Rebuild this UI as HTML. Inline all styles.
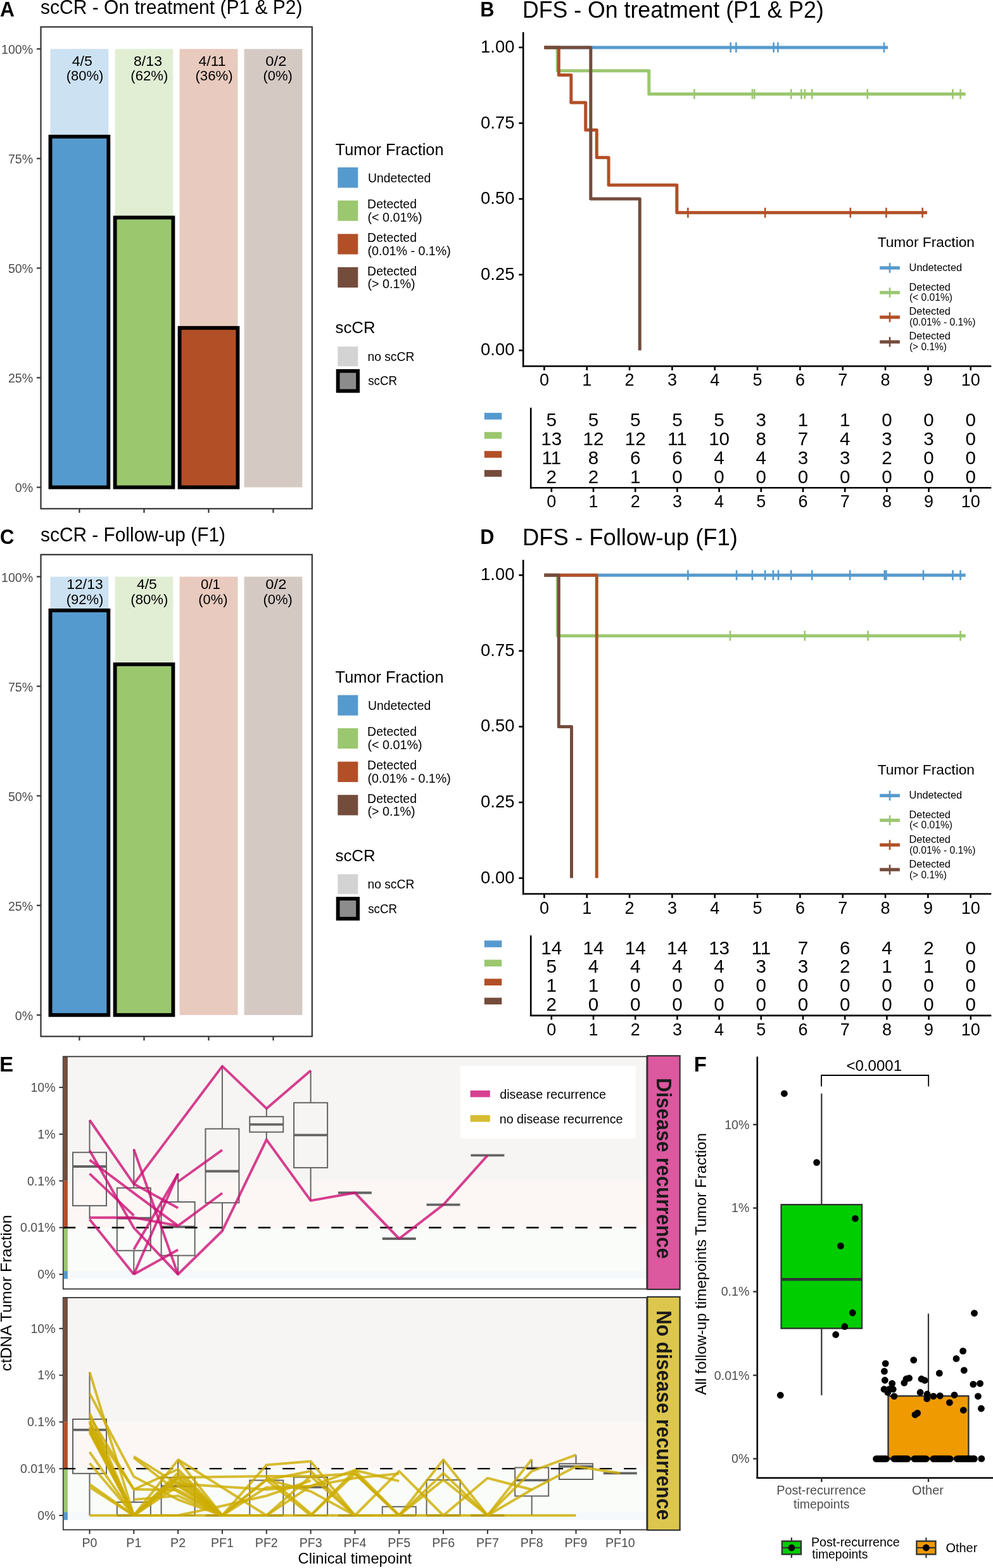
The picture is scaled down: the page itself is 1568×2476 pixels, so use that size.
<!DOCTYPE html>
<html><head><meta charset="utf-8"><title>Figure</title>
<style>html,body{margin:0;padding:0;background:#fff;}svg{display:block;}</style>
</head><body>
<svg width="1568" height="2476" viewBox="0 0 1568 2476" font-family="&apos;Liberation Sans&apos;, Arial, Helvetica, sans-serif">
<rect x="0" y="0" width="1568" height="2476" fill="#fff"/>
<text x="0.11" y="26.00" font-size="33.00" font-weight="bold" fill="#000" textLength="22.93" lengthAdjust="spacingAndGlyphs">A</text>
<text x="64.06" y="22.00" font-size="30.50" fill="#000" textLength="413.50" lengthAdjust="spacingAndGlyphs">scCR - On treatment (P1 &amp; P2)</text>
<rect x="64.50" y="42.50" width="428.30" height="760.80" fill="none" stroke="#333333" stroke-width="2.20"/>
<line x1="58.00" y1="769.50" x2="64.50" y2="769.50" stroke="#333333" stroke-width="2.20"/>
<text x="52.2" y="777.4" font-size="19.60" text-anchor="end" fill="#4D4D4D">0%</text>
<line x1="58.00" y1="596.45" x2="64.50" y2="596.45" stroke="#333333" stroke-width="2.20"/>
<text x="52.2" y="604.4" font-size="19.60" text-anchor="end" fill="#4D4D4D">25%</text>
<line x1="58.00" y1="423.40" x2="64.50" y2="423.40" stroke="#333333" stroke-width="2.20"/>
<text x="52.2" y="431.3" font-size="19.60" text-anchor="end" fill="#4D4D4D">50%</text>
<line x1="58.00" y1="250.35" x2="64.50" y2="250.35" stroke="#333333" stroke-width="2.20"/>
<text x="52.2" y="258.2" font-size="19.60" text-anchor="end" fill="#4D4D4D">75%</text>
<line x1="58.00" y1="77.30" x2="64.50" y2="77.30" stroke="#333333" stroke-width="2.20"/>
<text x="52.2" y="85.2" font-size="19.60" text-anchor="end" fill="#4D4D4D">100%</text>
<line x1="125.40" y1="803.30" x2="125.40" y2="809.80" stroke="#333333" stroke-width="2.20"/>
<line x1="227.50" y1="803.30" x2="227.50" y2="809.80" stroke="#333333" stroke-width="2.20"/>
<line x1="329.50" y1="803.30" x2="329.50" y2="809.80" stroke="#333333" stroke-width="2.20"/>
<line x1="431.50" y1="803.30" x2="431.50" y2="809.80" stroke="#333333" stroke-width="2.20"/>
<rect x="79.50" y="77.30" width="91.80" height="692.20" fill="#CCE1F1"/>
<rect x="181.60" y="77.30" width="91.80" height="692.20" fill="#E1EED4"/>
<rect x="283.60" y="77.30" width="91.80" height="692.20" fill="#E8CABE"/>
<rect x="385.60" y="77.30" width="91.80" height="692.20" fill="#D5C9C4"/>
<rect x="79.50" y="215.74" width="91.80" height="553.76" fill="#559ACF" stroke="#000" stroke-width="5.90"/>
<text x="113.67" y="103.80" font-size="22.00" fill="#000" textLength="32.10" lengthAdjust="spacingAndGlyphs">4/5</text>
<text x="104.74" y="127.00" font-size="22.00" fill="#000" textLength="58.52" lengthAdjust="spacingAndGlyphs">(80%)</text>
<rect x="181.60" y="343.53" width="91.80" height="425.97" fill="#9BC76F" stroke="#000" stroke-width="5.90"/>
<text x="210.99" y="103.80" font-size="22.00" fill="#000" textLength="45.02" lengthAdjust="spacingAndGlyphs">8/13</text>
<text x="206.32" y="127.00" font-size="22.00" fill="#000" textLength="59.15" lengthAdjust="spacingAndGlyphs">(62%)</text>
<rect x="283.60" y="517.79" width="91.80" height="251.71" fill="#B24F27" stroke="#000" stroke-width="5.90"/>
<text x="313.59" y="103.80" font-size="22.00" fill="#000" textLength="42.99" lengthAdjust="spacingAndGlyphs">4/11</text>
<text x="308.42" y="127.00" font-size="22.00" fill="#000" textLength="59.26" lengthAdjust="spacingAndGlyphs">(36%)</text>
<text x="419.37" y="103.80" font-size="22.00" fill="#000" textLength="33.02" lengthAdjust="spacingAndGlyphs">0/2</text>
<text x="415.44" y="127.00" font-size="22.00" fill="#000" textLength="46.32" lengthAdjust="spacingAndGlyphs">(0%)</text>
<text x="529.63" y="244.80" font-size="25.30" fill="#000" textLength="170.90" lengthAdjust="spacingAndGlyphs">Tumor Fraction</text>
<rect x="533.30" y="264.30" width="32.00" height="32.20" fill="#559ACF"/>
<rect x="533.30" y="316.60" width="32.00" height="32.20" fill="#9BC76F"/>
<rect x="533.30" y="369.40" width="32.00" height="32.20" fill="#B24F27"/>
<rect x="533.30" y="421.90" width="32.00" height="32.20" fill="#744C3C"/>
<text x="581.00" y="288.10" font-size="20.60" fill="#000" textLength="99.25" lengthAdjust="spacingAndGlyphs">Undetected</text>
<text x="580.10" y="328.80" font-size="20.60" fill="#000" textLength="77.95" lengthAdjust="spacingAndGlyphs">Detected</text>
<text x="580.48" y="349.90" font-size="20.60" fill="#000" textLength="86.15" lengthAdjust="spacingAndGlyphs">(&lt; 0.01%)</text>
<text x="580.10" y="381.80" font-size="20.60" fill="#000" textLength="77.95" lengthAdjust="spacingAndGlyphs">Detected</text>
<text x="580.48" y="402.50" font-size="20.60" fill="#000" textLength="131.44" lengthAdjust="spacingAndGlyphs">(0.01% - 0.1%)</text>
<text x="580.10" y="434.50" font-size="20.60" fill="#000" textLength="77.95" lengthAdjust="spacingAndGlyphs">Detected</text>
<text x="580.48" y="455.00" font-size="20.60" fill="#000" textLength="75.15" lengthAdjust="spacingAndGlyphs">(&gt; 0.1%)</text>
<text x="529.48" y="526.20" font-size="25.30" fill="#000" textLength="63.12" lengthAdjust="spacingAndGlyphs">scCR</text>
<rect x="533.30" y="547.20" width="32.00" height="31.20" fill="#D3D3D3"/>
<text x="580.42" y="570.00" font-size="20.60" fill="#000" textLength="73.98" lengthAdjust="spacingAndGlyphs">no scCR</text>
<rect x="533.60" y="585.80" width="31.50" height="31.60" fill="#8C8C8C" stroke="#000" stroke-width="5.80"/>
<text x="581.18" y="608.40" font-size="20.60" fill="#000" textLength="45.79" lengthAdjust="spacingAndGlyphs">scCR</text>
<text x="0.03" y="859.30" font-size="33.00" font-weight="bold" fill="#000" textLength="22.42" lengthAdjust="spacingAndGlyphs">C</text>
<text x="64.07" y="855.30" font-size="30.50" fill="#000" textLength="291.88" lengthAdjust="spacingAndGlyphs">scCR - Follow-up (F1)</text>
<rect x="64.50" y="875.80" width="428.30" height="760.80" fill="none" stroke="#333333" stroke-width="2.20"/>
<line x1="58.00" y1="1602.80" x2="64.50" y2="1602.80" stroke="#333333" stroke-width="2.20"/>
<text x="52.2" y="1610.7" font-size="19.60" text-anchor="end" fill="#4D4D4D">0%</text>
<line x1="58.00" y1="1429.75" x2="64.50" y2="1429.75" stroke="#333333" stroke-width="2.20"/>
<text x="52.2" y="1437.7" font-size="19.60" text-anchor="end" fill="#4D4D4D">25%</text>
<line x1="58.00" y1="1256.70" x2="64.50" y2="1256.70" stroke="#333333" stroke-width="2.20"/>
<text x="52.2" y="1264.6" font-size="19.60" text-anchor="end" fill="#4D4D4D">50%</text>
<line x1="58.00" y1="1083.65" x2="64.50" y2="1083.65" stroke="#333333" stroke-width="2.20"/>
<text x="52.2" y="1091.5" font-size="19.60" text-anchor="end" fill="#4D4D4D">75%</text>
<line x1="58.00" y1="910.60" x2="64.50" y2="910.60" stroke="#333333" stroke-width="2.20"/>
<text x="52.2" y="918.5" font-size="19.60" text-anchor="end" fill="#4D4D4D">100%</text>
<line x1="125.40" y1="1636.60" x2="125.40" y2="1643.10" stroke="#333333" stroke-width="2.20"/>
<line x1="227.50" y1="1636.60" x2="227.50" y2="1643.10" stroke="#333333" stroke-width="2.20"/>
<line x1="329.50" y1="1636.60" x2="329.50" y2="1643.10" stroke="#333333" stroke-width="2.20"/>
<line x1="431.50" y1="1636.60" x2="431.50" y2="1643.10" stroke="#333333" stroke-width="2.20"/>
<rect x="79.50" y="910.60" width="91.80" height="692.20" fill="#CCE1F1"/>
<rect x="181.60" y="910.60" width="91.80" height="692.20" fill="#E1EED4"/>
<rect x="283.60" y="910.60" width="91.80" height="692.20" fill="#E8CABE"/>
<rect x="385.60" y="910.60" width="91.80" height="692.20" fill="#D5C9C4"/>
<rect x="79.50" y="963.85" width="91.80" height="638.95" fill="#559ACF" stroke="#000" stroke-width="5.90"/>
<text x="105.36" y="930.00" font-size="22.00" fill="#000" textLength="57.25" lengthAdjust="spacingAndGlyphs">12/13</text>
<text x="104.74" y="953.70" font-size="22.00" fill="#000" textLength="58.52" lengthAdjust="spacingAndGlyphs">(92%)</text>
<rect x="181.60" y="1049.04" width="91.80" height="553.76" fill="#9BC76F" stroke="#000" stroke-width="5.90"/>
<text x="215.97" y="930.00" font-size="22.00" fill="#000" textLength="31.89" lengthAdjust="spacingAndGlyphs">4/5</text>
<text x="206.32" y="953.70" font-size="22.00" fill="#000" textLength="59.15" lengthAdjust="spacingAndGlyphs">(80%)</text>
<text x="317.03" y="930.00" font-size="22.00" fill="#000" textLength="30.96" lengthAdjust="spacingAndGlyphs">0/1</text>
<text x="313.34" y="953.70" font-size="22.00" fill="#000" textLength="46.21" lengthAdjust="spacingAndGlyphs">(0%)</text>
<text x="419.37" y="930.00" font-size="22.00" fill="#000" textLength="33.02" lengthAdjust="spacingAndGlyphs">0/2</text>
<text x="415.44" y="953.70" font-size="22.00" fill="#000" textLength="46.32" lengthAdjust="spacingAndGlyphs">(0%)</text>
<text x="529.63" y="1078.10" font-size="25.30" fill="#000" textLength="170.90" lengthAdjust="spacingAndGlyphs">Tumor Fraction</text>
<rect x="533.30" y="1097.60" width="32.00" height="32.20" fill="#559ACF"/>
<rect x="533.30" y="1149.90" width="32.00" height="32.20" fill="#9BC76F"/>
<rect x="533.30" y="1202.70" width="32.00" height="32.20" fill="#B24F27"/>
<rect x="533.30" y="1255.20" width="32.00" height="32.20" fill="#744C3C"/>
<text x="581.00" y="1121.40" font-size="20.60" fill="#000" textLength="99.25" lengthAdjust="spacingAndGlyphs">Undetected</text>
<text x="580.10" y="1162.10" font-size="20.60" fill="#000" textLength="77.95" lengthAdjust="spacingAndGlyphs">Detected</text>
<text x="580.48" y="1183.20" font-size="20.60" fill="#000" textLength="86.15" lengthAdjust="spacingAndGlyphs">(&lt; 0.01%)</text>
<text x="580.10" y="1215.10" font-size="20.60" fill="#000" textLength="77.95" lengthAdjust="spacingAndGlyphs">Detected</text>
<text x="580.48" y="1235.80" font-size="20.60" fill="#000" textLength="131.44" lengthAdjust="spacingAndGlyphs">(0.01% - 0.1%)</text>
<text x="580.10" y="1267.80" font-size="20.60" fill="#000" textLength="77.95" lengthAdjust="spacingAndGlyphs">Detected</text>
<text x="580.48" y="1288.30" font-size="20.60" fill="#000" textLength="75.15" lengthAdjust="spacingAndGlyphs">(&gt; 0.1%)</text>
<text x="529.48" y="1359.50" font-size="25.30" fill="#000" textLength="63.12" lengthAdjust="spacingAndGlyphs">scCR</text>
<rect x="533.30" y="1380.50" width="32.00" height="31.20" fill="#D3D3D3"/>
<text x="580.42" y="1403.30" font-size="20.60" fill="#000" textLength="73.98" lengthAdjust="spacingAndGlyphs">no scCR</text>
<rect x="533.60" y="1419.10" width="31.50" height="31.60" fill="#8C8C8C" stroke="#000" stroke-width="5.80"/>
<text x="581.18" y="1441.70" font-size="20.60" fill="#000" textLength="45.79" lengthAdjust="spacingAndGlyphs">scCR</text>
<text x="758.34" y="25.80" font-size="33.00" font-weight="bold" fill="#000" textLength="22.26" lengthAdjust="spacingAndGlyphs">B</text>
<text x="824.97" y="27.90" font-size="37.00" fill="#000" textLength="475.84" lengthAdjust="spacingAndGlyphs">DFS - On treatment (P1 &amp; P2)</text>
<line x1="826.20" y1="50.80" x2="826.20" y2="579.50" stroke="#000" stroke-width="2.60"/>
<line x1="824.90" y1="578.20" x2="1565.30" y2="578.20" stroke="#000" stroke-width="2.60"/>
<line x1="819.30" y1="553.30" x2="826.20" y2="553.30" stroke="#000" stroke-width="2.60"/>
<text x="812.4" y="561.3" font-size="27.40" text-anchor="end" fill="#000">0.00</text>
<line x1="819.30" y1="433.70" x2="826.20" y2="433.70" stroke="#000" stroke-width="2.60"/>
<text x="812.4" y="441.7" font-size="27.40" text-anchor="end" fill="#000">0.25</text>
<line x1="819.30" y1="314.10" x2="826.20" y2="314.10" stroke="#000" stroke-width="2.60"/>
<text x="812.4" y="322.1" font-size="27.40" text-anchor="end" fill="#000">0.50</text>
<line x1="819.30" y1="194.50" x2="826.20" y2="194.50" stroke="#000" stroke-width="2.60"/>
<text x="812.4" y="202.5" font-size="27.40" text-anchor="end" fill="#000">0.75</text>
<line x1="819.30" y1="74.90" x2="826.20" y2="74.90" stroke="#000" stroke-width="2.60"/>
<text x="812.4" y="82.9" font-size="27.40" text-anchor="end" fill="#000">1.00</text>
<line x1="859.40" y1="578.20" x2="859.40" y2="584.80" stroke="#000" stroke-width="2.60"/>
<text x="859.4" y="609.3" font-size="27.00" text-anchor="middle" fill="#000">0</text>
<line x1="926.73" y1="578.20" x2="926.73" y2="584.80" stroke="#000" stroke-width="2.60"/>
<text x="926.7" y="609.3" font-size="27.00" text-anchor="middle" fill="#000">1</text>
<line x1="994.06" y1="578.20" x2="994.06" y2="584.80" stroke="#000" stroke-width="2.60"/>
<text x="994.1" y="609.3" font-size="27.00" text-anchor="middle" fill="#000">2</text>
<line x1="1061.39" y1="578.20" x2="1061.39" y2="584.80" stroke="#000" stroke-width="2.60"/>
<text x="1061.4" y="609.3" font-size="27.00" text-anchor="middle" fill="#000">3</text>
<line x1="1128.72" y1="578.20" x2="1128.72" y2="584.80" stroke="#000" stroke-width="2.60"/>
<text x="1128.7" y="609.3" font-size="27.00" text-anchor="middle" fill="#000">4</text>
<line x1="1196.05" y1="578.20" x2="1196.05" y2="584.80" stroke="#000" stroke-width="2.60"/>
<text x="1196.0" y="609.3" font-size="27.00" text-anchor="middle" fill="#000">5</text>
<line x1="1263.38" y1="578.20" x2="1263.38" y2="584.80" stroke="#000" stroke-width="2.60"/>
<text x="1263.4" y="609.3" font-size="27.00" text-anchor="middle" fill="#000">6</text>
<line x1="1330.71" y1="578.20" x2="1330.71" y2="584.80" stroke="#000" stroke-width="2.60"/>
<text x="1330.7" y="609.3" font-size="27.00" text-anchor="middle" fill="#000">7</text>
<line x1="1398.04" y1="578.20" x2="1398.04" y2="584.80" stroke="#000" stroke-width="2.60"/>
<text x="1398.0" y="609.3" font-size="27.00" text-anchor="middle" fill="#000">8</text>
<line x1="1465.37" y1="578.20" x2="1465.37" y2="584.80" stroke="#000" stroke-width="2.60"/>
<text x="1465.4" y="609.3" font-size="27.00" text-anchor="middle" fill="#000">9</text>
<line x1="1532.70" y1="578.20" x2="1532.70" y2="584.80" stroke="#000" stroke-width="2.60"/>
<text x="1532.7" y="609.3" font-size="27.00" text-anchor="middle" fill="#000">10</text>
<path d="M859.40,74.90 L1402.08,74.90" fill="none" stroke="#559ACF" stroke-width="5.0" stroke-linejoin="round" stroke-linecap="butt"/>
<line x1="1153.63" y1="67.00" x2="1153.63" y2="82.80" stroke="#559ACF" stroke-width="2.60"/>
<line x1="1162.38" y1="67.00" x2="1162.38" y2="82.80" stroke="#559ACF" stroke-width="2.60"/>
<line x1="1221.64" y1="67.00" x2="1221.64" y2="82.80" stroke="#559ACF" stroke-width="2.60"/>
<line x1="1228.37" y1="67.00" x2="1228.37" y2="82.80" stroke="#559ACF" stroke-width="2.60"/>
<line x1="1396.02" y1="67.00" x2="1396.02" y2="82.80" stroke="#559ACF" stroke-width="2.60"/>
<path d="M859.40,74.90 L880.27,74.90 L880.27,111.70 L1024.76,111.70 L1024.76,148.50 L1524.62,148.50" fill="none" stroke="#9BC76F" stroke-width="5.0" stroke-linejoin="round" stroke-linecap="butt"/>
<line x1="1096.40" y1="140.60" x2="1096.40" y2="156.40" stroke="#9BC76F" stroke-width="2.60"/>
<line x1="1187.97" y1="140.60" x2="1187.97" y2="156.40" stroke="#9BC76F" stroke-width="2.60"/>
<line x1="1191.34" y1="140.60" x2="1191.34" y2="156.40" stroke="#9BC76F" stroke-width="2.60"/>
<line x1="1249.24" y1="140.60" x2="1249.24" y2="156.40" stroke="#9BC76F" stroke-width="2.60"/>
<line x1="1265.40" y1="140.60" x2="1265.40" y2="156.40" stroke="#9BC76F" stroke-width="2.60"/>
<line x1="1270.79" y1="140.60" x2="1270.79" y2="156.40" stroke="#9BC76F" stroke-width="2.60"/>
<line x1="1282.23" y1="140.60" x2="1282.23" y2="156.40" stroke="#9BC76F" stroke-width="2.60"/>
<line x1="1369.76" y1="140.60" x2="1369.76" y2="156.40" stroke="#9BC76F" stroke-width="2.60"/>
<line x1="1504.42" y1="140.60" x2="1504.42" y2="156.40" stroke="#9BC76F" stroke-width="2.60"/>
<line x1="1516.54" y1="140.60" x2="1516.54" y2="156.40" stroke="#9BC76F" stroke-width="2.60"/>
<path d="M859.40,74.90 L882.29,74.90 L882.29,118.39 L901.82,118.39 L901.82,161.88 L924.71,161.88 L924.71,205.37 L942.22,205.37 L942.22,248.86 L961.07,248.86 L961.07,292.35 L1068.80,292.35 L1068.80,335.85 L1464.02,335.85" fill="none" stroke="#B24F27" stroke-width="5.0" stroke-linejoin="round" stroke-linecap="butt"/>
<line x1="1086.30" y1="327.95" x2="1086.30" y2="343.75" stroke="#B24F27" stroke-width="2.60"/>
<line x1="1208.17" y1="327.95" x2="1208.17" y2="343.75" stroke="#B24F27" stroke-width="2.60"/>
<line x1="1342.83" y1="327.95" x2="1342.83" y2="343.75" stroke="#B24F27" stroke-width="2.60"/>
<line x1="1399.39" y1="327.95" x2="1399.39" y2="343.75" stroke="#B24F27" stroke-width="2.60"/>
<line x1="1456.62" y1="327.95" x2="1456.62" y2="343.75" stroke="#B24F27" stroke-width="2.60"/>
<path d="M859.40,74.90 L932.79,74.90 L932.79,314.10 L1010.22,314.10 L1010.22,553.30 L1010.22,553.30" fill="none" stroke="#744C3C" stroke-width="5.0" stroke-linejoin="round" stroke-linecap="butt"/>
<text x="1385.69" y="390.10" font-size="22.80" fill="#000" textLength="153.28" lengthAdjust="spacingAndGlyphs">Tumor Fraction</text>
<line x1="1389.20" y1="423.00" x2="1420.90" y2="423.00" stroke="#559ACF" stroke-width="5.20"/>
<line x1="1405.00" y1="415.20" x2="1405.00" y2="430.80" stroke="#559ACF" stroke-width="2.60"/>
<line x1="1389.20" y1="462.00" x2="1420.90" y2="462.00" stroke="#9BC76F" stroke-width="5.20"/>
<line x1="1405.00" y1="454.20" x2="1405.00" y2="469.80" stroke="#9BC76F" stroke-width="2.60"/>
<line x1="1389.20" y1="500.90" x2="1420.90" y2="500.90" stroke="#B24F27" stroke-width="5.20"/>
<line x1="1405.00" y1="493.10" x2="1405.00" y2="508.70" stroke="#B24F27" stroke-width="2.60"/>
<line x1="1389.20" y1="539.90" x2="1420.90" y2="539.90" stroke="#744C3C" stroke-width="5.20"/>
<line x1="1405.00" y1="532.10" x2="1405.00" y2="547.70" stroke="#744C3C" stroke-width="2.60"/>
<text x="1435.64" y="427.80" font-size="16.20" fill="#000" textLength="83.41" lengthAdjust="spacingAndGlyphs">Undetected</text>
<text x="1435.56" y="458.70" font-size="16.20" fill="#000" textLength="65.29" lengthAdjust="spacingAndGlyphs">Detected</text>
<text x="1435.93" y="475.00" font-size="16.20" fill="#000" textLength="68.14" lengthAdjust="spacingAndGlyphs">(&lt; 0.01%)</text>
<text x="1435.56" y="497.40" font-size="16.20" fill="#000" textLength="65.29" lengthAdjust="spacingAndGlyphs">Detected</text>
<text x="1435.93" y="514.30" font-size="16.20" fill="#000" textLength="104.44" lengthAdjust="spacingAndGlyphs">(0.01% - 0.1%)</text>
<text x="1435.56" y="536.40" font-size="16.20" fill="#000" textLength="65.29" lengthAdjust="spacingAndGlyphs">Detected</text>
<text x="1435.94" y="553.20" font-size="16.20" fill="#000" textLength="59.02" lengthAdjust="spacingAndGlyphs">(&gt; 0.1%)</text>
<rect x="764.80" y="651.90" width="27.50" height="10.60" fill="#559ACF"/>
<rect x="764.80" y="682.20" width="27.50" height="10.60" fill="#9BC76F"/>
<rect x="764.80" y="712.20" width="27.50" height="10.60" fill="#B24F27"/>
<rect x="764.80" y="742.20" width="27.50" height="10.60" fill="#744C3C"/>
<line x1="838.20" y1="643.80" x2="838.20" y2="771.60" stroke="#000" stroke-width="2.60"/>
<line x1="836.90" y1="770.30" x2="1565.30" y2="770.30" stroke="#000" stroke-width="2.60"/>
<line x1="870.80" y1="770.30" x2="870.80" y2="777.00" stroke="#000" stroke-width="2.60"/>
<text x="870.8" y="801.4" font-size="27.00" text-anchor="middle" fill="#000">0</text>
<line x1="937.00" y1="770.30" x2="937.00" y2="777.00" stroke="#000" stroke-width="2.60"/>
<text x="937.0" y="801.4" font-size="27.00" text-anchor="middle" fill="#000">1</text>
<line x1="1003.20" y1="770.30" x2="1003.20" y2="777.00" stroke="#000" stroke-width="2.60"/>
<text x="1003.2" y="801.4" font-size="27.00" text-anchor="middle" fill="#000">2</text>
<line x1="1069.40" y1="770.30" x2="1069.40" y2="777.00" stroke="#000" stroke-width="2.60"/>
<text x="1069.4" y="801.4" font-size="27.00" text-anchor="middle" fill="#000">3</text>
<line x1="1135.60" y1="770.30" x2="1135.60" y2="777.00" stroke="#000" stroke-width="2.60"/>
<text x="1135.6" y="801.4" font-size="27.00" text-anchor="middle" fill="#000">4</text>
<line x1="1201.80" y1="770.30" x2="1201.80" y2="777.00" stroke="#000" stroke-width="2.60"/>
<text x="1201.8" y="801.4" font-size="27.00" text-anchor="middle" fill="#000">5</text>
<line x1="1268.00" y1="770.30" x2="1268.00" y2="777.00" stroke="#000" stroke-width="2.60"/>
<text x="1268.0" y="801.4" font-size="27.00" text-anchor="middle" fill="#000">6</text>
<line x1="1334.20" y1="770.30" x2="1334.20" y2="777.00" stroke="#000" stroke-width="2.60"/>
<text x="1334.2" y="801.4" font-size="27.00" text-anchor="middle" fill="#000">7</text>
<line x1="1400.40" y1="770.30" x2="1400.40" y2="777.00" stroke="#000" stroke-width="2.60"/>
<text x="1400.4" y="801.4" font-size="27.00" text-anchor="middle" fill="#000">8</text>
<line x1="1466.60" y1="770.30" x2="1466.60" y2="777.00" stroke="#000" stroke-width="2.60"/>
<text x="1466.6" y="801.4" font-size="27.00" text-anchor="middle" fill="#000">9</text>
<line x1="1532.80" y1="770.30" x2="1532.80" y2="777.00" stroke="#000" stroke-width="2.60"/>
<text x="1532.8" y="801.4" font-size="27.00" text-anchor="middle" fill="#000">10</text>
<text x="870.8" y="673.3" font-size="29.60" text-anchor="middle" fill="#000">5</text>
<text x="937.0" y="673.3" font-size="29.60" text-anchor="middle" fill="#000">5</text>
<text x="1003.2" y="673.3" font-size="29.60" text-anchor="middle" fill="#000">5</text>
<text x="1069.4" y="673.3" font-size="29.60" text-anchor="middle" fill="#000">5</text>
<text x="1135.6" y="673.3" font-size="29.60" text-anchor="middle" fill="#000">5</text>
<text x="1201.8" y="673.3" font-size="29.60" text-anchor="middle" fill="#000">3</text>
<text x="1268.0" y="673.3" font-size="29.60" text-anchor="middle" fill="#000">1</text>
<text x="1334.2" y="673.3" font-size="29.60" text-anchor="middle" fill="#000">1</text>
<text x="1400.4" y="673.3" font-size="29.60" text-anchor="middle" fill="#000">0</text>
<text x="1466.6" y="673.3" font-size="29.60" text-anchor="middle" fill="#000">0</text>
<text x="1532.8" y="673.3" font-size="29.60" text-anchor="middle" fill="#000">0</text>
<text x="870.8" y="703.1" font-size="29.60" text-anchor="middle" fill="#000">13</text>
<text x="937.0" y="703.1" font-size="29.60" text-anchor="middle" fill="#000">12</text>
<text x="1003.2" y="703.1" font-size="29.60" text-anchor="middle" fill="#000">12</text>
<text x="1069.4" y="703.1" font-size="29.60" text-anchor="middle" fill="#000">11</text>
<text x="1135.6" y="703.1" font-size="29.60" text-anchor="middle" fill="#000">10</text>
<text x="1201.8" y="703.1" font-size="29.60" text-anchor="middle" fill="#000">8</text>
<text x="1268.0" y="703.1" font-size="29.60" text-anchor="middle" fill="#000">7</text>
<text x="1334.2" y="703.1" font-size="29.60" text-anchor="middle" fill="#000">4</text>
<text x="1400.4" y="703.1" font-size="29.60" text-anchor="middle" fill="#000">3</text>
<text x="1466.6" y="703.1" font-size="29.60" text-anchor="middle" fill="#000">3</text>
<text x="1532.8" y="703.1" font-size="29.60" text-anchor="middle" fill="#000">0</text>
<text x="870.8" y="733.1" font-size="29.60" text-anchor="middle" fill="#000">11</text>
<text x="937.0" y="733.1" font-size="29.60" text-anchor="middle" fill="#000">8</text>
<text x="1003.2" y="733.1" font-size="29.60" text-anchor="middle" fill="#000">6</text>
<text x="1069.4" y="733.1" font-size="29.60" text-anchor="middle" fill="#000">6</text>
<text x="1135.6" y="733.1" font-size="29.60" text-anchor="middle" fill="#000">4</text>
<text x="1201.8" y="733.1" font-size="29.60" text-anchor="middle" fill="#000">4</text>
<text x="1268.0" y="733.1" font-size="29.60" text-anchor="middle" fill="#000">3</text>
<text x="1334.2" y="733.1" font-size="29.60" text-anchor="middle" fill="#000">3</text>
<text x="1400.4" y="733.1" font-size="29.60" text-anchor="middle" fill="#000">2</text>
<text x="1466.6" y="733.1" font-size="29.60" text-anchor="middle" fill="#000">0</text>
<text x="1532.8" y="733.1" font-size="29.60" text-anchor="middle" fill="#000">0</text>
<text x="870.8" y="763.1" font-size="29.60" text-anchor="middle" fill="#000">2</text>
<text x="937.0" y="763.1" font-size="29.60" text-anchor="middle" fill="#000">2</text>
<text x="1003.2" y="763.1" font-size="29.60" text-anchor="middle" fill="#000">1</text>
<text x="1069.4" y="763.1" font-size="29.60" text-anchor="middle" fill="#000">0</text>
<text x="1135.6" y="763.1" font-size="29.60" text-anchor="middle" fill="#000">0</text>
<text x="1201.8" y="763.1" font-size="29.60" text-anchor="middle" fill="#000">0</text>
<text x="1268.0" y="763.1" font-size="29.60" text-anchor="middle" fill="#000">0</text>
<text x="1334.2" y="763.1" font-size="29.60" text-anchor="middle" fill="#000">0</text>
<text x="1400.4" y="763.1" font-size="29.60" text-anchor="middle" fill="#000">0</text>
<text x="1466.6" y="763.1" font-size="29.60" text-anchor="middle" fill="#000">0</text>
<text x="1532.8" y="763.1" font-size="29.60" text-anchor="middle" fill="#000">0</text>
<text x="758.35" y="859.10" font-size="33.00" font-weight="bold" fill="#000" textLength="22.14" lengthAdjust="spacingAndGlyphs">D</text>
<text x="824.91" y="861.20" font-size="37.00" fill="#000" textLength="340.05" lengthAdjust="spacingAndGlyphs">DFS - Follow-up (F1)</text>
<line x1="826.20" y1="884.10" x2="826.20" y2="1412.80" stroke="#000" stroke-width="2.60"/>
<line x1="824.90" y1="1411.50" x2="1565.30" y2="1411.50" stroke="#000" stroke-width="2.60"/>
<line x1="819.30" y1="1386.60" x2="826.20" y2="1386.60" stroke="#000" stroke-width="2.60"/>
<text x="812.4" y="1394.6" font-size="27.40" text-anchor="end" fill="#000">0.00</text>
<line x1="819.30" y1="1267.00" x2="826.20" y2="1267.00" stroke="#000" stroke-width="2.60"/>
<text x="812.4" y="1275.0" font-size="27.40" text-anchor="end" fill="#000">0.25</text>
<line x1="819.30" y1="1147.40" x2="826.20" y2="1147.40" stroke="#000" stroke-width="2.60"/>
<text x="812.4" y="1155.4" font-size="27.40" text-anchor="end" fill="#000">0.50</text>
<line x1="819.30" y1="1027.80" x2="826.20" y2="1027.80" stroke="#000" stroke-width="2.60"/>
<text x="812.4" y="1035.8" font-size="27.40" text-anchor="end" fill="#000">0.75</text>
<line x1="819.30" y1="908.20" x2="826.20" y2="908.20" stroke="#000" stroke-width="2.60"/>
<text x="812.4" y="916.2" font-size="27.40" text-anchor="end" fill="#000">1.00</text>
<line x1="859.40" y1="1411.50" x2="859.40" y2="1418.10" stroke="#000" stroke-width="2.60"/>
<text x="859.4" y="1442.6" font-size="27.00" text-anchor="middle" fill="#000">0</text>
<line x1="926.73" y1="1411.50" x2="926.73" y2="1418.10" stroke="#000" stroke-width="2.60"/>
<text x="926.7" y="1442.6" font-size="27.00" text-anchor="middle" fill="#000">1</text>
<line x1="994.06" y1="1411.50" x2="994.06" y2="1418.10" stroke="#000" stroke-width="2.60"/>
<text x="994.1" y="1442.6" font-size="27.00" text-anchor="middle" fill="#000">2</text>
<line x1="1061.39" y1="1411.50" x2="1061.39" y2="1418.10" stroke="#000" stroke-width="2.60"/>
<text x="1061.4" y="1442.6" font-size="27.00" text-anchor="middle" fill="#000">3</text>
<line x1="1128.72" y1="1411.50" x2="1128.72" y2="1418.10" stroke="#000" stroke-width="2.60"/>
<text x="1128.7" y="1442.6" font-size="27.00" text-anchor="middle" fill="#000">4</text>
<line x1="1196.05" y1="1411.50" x2="1196.05" y2="1418.10" stroke="#000" stroke-width="2.60"/>
<text x="1196.0" y="1442.6" font-size="27.00" text-anchor="middle" fill="#000">5</text>
<line x1="1263.38" y1="1411.50" x2="1263.38" y2="1418.10" stroke="#000" stroke-width="2.60"/>
<text x="1263.4" y="1442.6" font-size="27.00" text-anchor="middle" fill="#000">6</text>
<line x1="1330.71" y1="1411.50" x2="1330.71" y2="1418.10" stroke="#000" stroke-width="2.60"/>
<text x="1330.7" y="1442.6" font-size="27.00" text-anchor="middle" fill="#000">7</text>
<line x1="1398.04" y1="1411.50" x2="1398.04" y2="1418.10" stroke="#000" stroke-width="2.60"/>
<text x="1398.0" y="1442.6" font-size="27.00" text-anchor="middle" fill="#000">8</text>
<line x1="1465.37" y1="1411.50" x2="1465.37" y2="1418.10" stroke="#000" stroke-width="2.60"/>
<text x="1465.4" y="1442.6" font-size="27.00" text-anchor="middle" fill="#000">9</text>
<line x1="1532.70" y1="1411.50" x2="1532.70" y2="1418.10" stroke="#000" stroke-width="2.60"/>
<text x="1532.7" y="1442.6" font-size="27.00" text-anchor="middle" fill="#000">10</text>
<path d="M859.40,908.20 L1524.62,908.20" fill="none" stroke="#559ACF" stroke-width="5.0" stroke-linejoin="round" stroke-linecap="butt"/>
<line x1="1086.30" y1="900.30" x2="1086.30" y2="916.10" stroke="#559ACF" stroke-width="2.60"/>
<line x1="1163.06" y1="900.30" x2="1163.06" y2="916.10" stroke="#559ACF" stroke-width="2.60"/>
<line x1="1187.97" y1="900.30" x2="1187.97" y2="916.10" stroke="#559ACF" stroke-width="2.60"/>
<line x1="1208.17" y1="900.30" x2="1208.17" y2="916.10" stroke="#559ACF" stroke-width="2.60"/>
<line x1="1220.96" y1="900.30" x2="1220.96" y2="916.10" stroke="#559ACF" stroke-width="2.60"/>
<line x1="1229.04" y1="900.30" x2="1229.04" y2="916.10" stroke="#559ACF" stroke-width="2.60"/>
<line x1="1249.24" y1="900.30" x2="1249.24" y2="916.10" stroke="#559ACF" stroke-width="2.60"/>
<line x1="1282.23" y1="900.30" x2="1282.23" y2="916.10" stroke="#559ACF" stroke-width="2.60"/>
<line x1="1342.16" y1="900.30" x2="1342.16" y2="916.10" stroke="#559ACF" stroke-width="2.60"/>
<line x1="1396.69" y1="900.30" x2="1396.69" y2="916.10" stroke="#559ACF" stroke-width="2.60"/>
<line x1="1399.39" y1="900.30" x2="1399.39" y2="916.10" stroke="#559ACF" stroke-width="2.60"/>
<line x1="1457.96" y1="900.30" x2="1457.96" y2="916.10" stroke="#559ACF" stroke-width="2.60"/>
<line x1="1504.42" y1="900.30" x2="1504.42" y2="916.10" stroke="#559ACF" stroke-width="2.60"/>
<line x1="1516.54" y1="900.30" x2="1516.54" y2="916.10" stroke="#559ACF" stroke-width="2.60"/>
<path d="M859.40,908.20 L880.27,908.20 L880.27,1003.88 L1524.62,1003.88" fill="none" stroke="#9BC76F" stroke-width="5.0" stroke-linejoin="round" stroke-linecap="butt"/>
<line x1="1152.96" y1="995.98" x2="1152.96" y2="1011.78" stroke="#9BC76F" stroke-width="2.60"/>
<line x1="1270.79" y1="995.98" x2="1270.79" y2="1011.78" stroke="#9BC76F" stroke-width="2.60"/>
<line x1="1370.43" y1="995.98" x2="1370.43" y2="1011.78" stroke="#9BC76F" stroke-width="2.60"/>
<line x1="1516.54" y1="995.98" x2="1516.54" y2="1011.78" stroke="#9BC76F" stroke-width="2.60"/>
<path d="M859.40,908.20 L942.22,908.20 L942.22,1386.60 L942.22,1386.60" fill="none" stroke="#B24F27" stroke-width="5.0" stroke-linejoin="round" stroke-linecap="butt"/>
<path d="M859.40,908.20 L882.29,908.20 L882.29,1147.40 L902.49,1147.40 L902.49,1386.60 L902.49,1386.60" fill="none" stroke="#744C3C" stroke-width="5.0" stroke-linejoin="round" stroke-linecap="butt"/>
<text x="1385.69" y="1223.40" font-size="22.80" fill="#000" textLength="153.28" lengthAdjust="spacingAndGlyphs">Tumor Fraction</text>
<line x1="1389.20" y1="1256.30" x2="1420.90" y2="1256.30" stroke="#559ACF" stroke-width="5.20"/>
<line x1="1405.00" y1="1248.50" x2="1405.00" y2="1264.10" stroke="#559ACF" stroke-width="2.60"/>
<line x1="1389.20" y1="1295.30" x2="1420.90" y2="1295.30" stroke="#9BC76F" stroke-width="5.20"/>
<line x1="1405.00" y1="1287.50" x2="1405.00" y2="1303.10" stroke="#9BC76F" stroke-width="2.60"/>
<line x1="1389.20" y1="1334.20" x2="1420.90" y2="1334.20" stroke="#B24F27" stroke-width="5.20"/>
<line x1="1405.00" y1="1326.40" x2="1405.00" y2="1342.00" stroke="#B24F27" stroke-width="2.60"/>
<line x1="1389.20" y1="1373.20" x2="1420.90" y2="1373.20" stroke="#744C3C" stroke-width="5.20"/>
<line x1="1405.00" y1="1365.40" x2="1405.00" y2="1381.00" stroke="#744C3C" stroke-width="2.60"/>
<text x="1435.64" y="1261.10" font-size="16.20" fill="#000" textLength="83.41" lengthAdjust="spacingAndGlyphs">Undetected</text>
<text x="1435.56" y="1292.00" font-size="16.20" fill="#000" textLength="65.29" lengthAdjust="spacingAndGlyphs">Detected</text>
<text x="1435.93" y="1308.30" font-size="16.20" fill="#000" textLength="68.14" lengthAdjust="spacingAndGlyphs">(&lt; 0.01%)</text>
<text x="1435.56" y="1330.70" font-size="16.20" fill="#000" textLength="65.29" lengthAdjust="spacingAndGlyphs">Detected</text>
<text x="1435.93" y="1347.60" font-size="16.20" fill="#000" textLength="104.44" lengthAdjust="spacingAndGlyphs">(0.01% - 0.1%)</text>
<text x="1435.56" y="1369.70" font-size="16.20" fill="#000" textLength="65.29" lengthAdjust="spacingAndGlyphs">Detected</text>
<text x="1435.94" y="1386.50" font-size="16.20" fill="#000" textLength="59.02" lengthAdjust="spacingAndGlyphs">(&gt; 0.1%)</text>
<rect x="764.80" y="1485.20" width="27.50" height="10.60" fill="#559ACF"/>
<rect x="764.80" y="1515.50" width="27.50" height="10.60" fill="#9BC76F"/>
<rect x="764.80" y="1545.50" width="27.50" height="10.60" fill="#B24F27"/>
<rect x="764.80" y="1575.50" width="27.50" height="10.60" fill="#744C3C"/>
<line x1="838.20" y1="1477.10" x2="838.20" y2="1604.90" stroke="#000" stroke-width="2.60"/>
<line x1="836.90" y1="1603.60" x2="1565.30" y2="1603.60" stroke="#000" stroke-width="2.60"/>
<line x1="870.80" y1="1603.60" x2="870.80" y2="1610.30" stroke="#000" stroke-width="2.60"/>
<text x="870.8" y="1634.7" font-size="27.00" text-anchor="middle" fill="#000">0</text>
<line x1="937.00" y1="1603.60" x2="937.00" y2="1610.30" stroke="#000" stroke-width="2.60"/>
<text x="937.0" y="1634.7" font-size="27.00" text-anchor="middle" fill="#000">1</text>
<line x1="1003.20" y1="1603.60" x2="1003.20" y2="1610.30" stroke="#000" stroke-width="2.60"/>
<text x="1003.2" y="1634.7" font-size="27.00" text-anchor="middle" fill="#000">2</text>
<line x1="1069.40" y1="1603.60" x2="1069.40" y2="1610.30" stroke="#000" stroke-width="2.60"/>
<text x="1069.4" y="1634.7" font-size="27.00" text-anchor="middle" fill="#000">3</text>
<line x1="1135.60" y1="1603.60" x2="1135.60" y2="1610.30" stroke="#000" stroke-width="2.60"/>
<text x="1135.6" y="1634.7" font-size="27.00" text-anchor="middle" fill="#000">4</text>
<line x1="1201.80" y1="1603.60" x2="1201.80" y2="1610.30" stroke="#000" stroke-width="2.60"/>
<text x="1201.8" y="1634.7" font-size="27.00" text-anchor="middle" fill="#000">5</text>
<line x1="1268.00" y1="1603.60" x2="1268.00" y2="1610.30" stroke="#000" stroke-width="2.60"/>
<text x="1268.0" y="1634.7" font-size="27.00" text-anchor="middle" fill="#000">6</text>
<line x1="1334.20" y1="1603.60" x2="1334.20" y2="1610.30" stroke="#000" stroke-width="2.60"/>
<text x="1334.2" y="1634.7" font-size="27.00" text-anchor="middle" fill="#000">7</text>
<line x1="1400.40" y1="1603.60" x2="1400.40" y2="1610.30" stroke="#000" stroke-width="2.60"/>
<text x="1400.4" y="1634.7" font-size="27.00" text-anchor="middle" fill="#000">8</text>
<line x1="1466.60" y1="1603.60" x2="1466.60" y2="1610.30" stroke="#000" stroke-width="2.60"/>
<text x="1466.6" y="1634.7" font-size="27.00" text-anchor="middle" fill="#000">9</text>
<line x1="1532.80" y1="1603.60" x2="1532.80" y2="1610.30" stroke="#000" stroke-width="2.60"/>
<text x="1532.8" y="1634.7" font-size="27.00" text-anchor="middle" fill="#000">10</text>
<text x="870.8" y="1506.6" font-size="29.60" text-anchor="middle" fill="#000">14</text>
<text x="937.0" y="1506.6" font-size="29.60" text-anchor="middle" fill="#000">14</text>
<text x="1003.2" y="1506.6" font-size="29.60" text-anchor="middle" fill="#000">14</text>
<text x="1069.4" y="1506.6" font-size="29.60" text-anchor="middle" fill="#000">14</text>
<text x="1135.6" y="1506.6" font-size="29.60" text-anchor="middle" fill="#000">13</text>
<text x="1201.8" y="1506.6" font-size="29.60" text-anchor="middle" fill="#000">11</text>
<text x="1268.0" y="1506.6" font-size="29.60" text-anchor="middle" fill="#000">7</text>
<text x="1334.2" y="1506.6" font-size="29.60" text-anchor="middle" fill="#000">6</text>
<text x="1400.4" y="1506.6" font-size="29.60" text-anchor="middle" fill="#000">4</text>
<text x="1466.6" y="1506.6" font-size="29.60" text-anchor="middle" fill="#000">2</text>
<text x="1532.8" y="1506.6" font-size="29.60" text-anchor="middle" fill="#000">0</text>
<text x="870.8" y="1536.4" font-size="29.60" text-anchor="middle" fill="#000">5</text>
<text x="937.0" y="1536.4" font-size="29.60" text-anchor="middle" fill="#000">4</text>
<text x="1003.2" y="1536.4" font-size="29.60" text-anchor="middle" fill="#000">4</text>
<text x="1069.4" y="1536.4" font-size="29.60" text-anchor="middle" fill="#000">4</text>
<text x="1135.6" y="1536.4" font-size="29.60" text-anchor="middle" fill="#000">4</text>
<text x="1201.8" y="1536.4" font-size="29.60" text-anchor="middle" fill="#000">3</text>
<text x="1268.0" y="1536.4" font-size="29.60" text-anchor="middle" fill="#000">3</text>
<text x="1334.2" y="1536.4" font-size="29.60" text-anchor="middle" fill="#000">2</text>
<text x="1400.4" y="1536.4" font-size="29.60" text-anchor="middle" fill="#000">1</text>
<text x="1466.6" y="1536.4" font-size="29.60" text-anchor="middle" fill="#000">1</text>
<text x="1532.8" y="1536.4" font-size="29.60" text-anchor="middle" fill="#000">0</text>
<text x="870.8" y="1566.4" font-size="29.60" text-anchor="middle" fill="#000">1</text>
<text x="937.0" y="1566.4" font-size="29.60" text-anchor="middle" fill="#000">1</text>
<text x="1003.2" y="1566.4" font-size="29.60" text-anchor="middle" fill="#000">0</text>
<text x="1069.4" y="1566.4" font-size="29.60" text-anchor="middle" fill="#000">0</text>
<text x="1135.6" y="1566.4" font-size="29.60" text-anchor="middle" fill="#000">0</text>
<text x="1201.8" y="1566.4" font-size="29.60" text-anchor="middle" fill="#000">0</text>
<text x="1268.0" y="1566.4" font-size="29.60" text-anchor="middle" fill="#000">0</text>
<text x="1334.2" y="1566.4" font-size="29.60" text-anchor="middle" fill="#000">0</text>
<text x="1400.4" y="1566.4" font-size="29.60" text-anchor="middle" fill="#000">0</text>
<text x="1466.6" y="1566.4" font-size="29.60" text-anchor="middle" fill="#000">0</text>
<text x="1532.8" y="1566.4" font-size="29.60" text-anchor="middle" fill="#000">0</text>
<text x="870.8" y="1596.4" font-size="29.60" text-anchor="middle" fill="#000">2</text>
<text x="937.0" y="1596.4" font-size="29.60" text-anchor="middle" fill="#000">0</text>
<text x="1003.2" y="1596.4" font-size="29.60" text-anchor="middle" fill="#000">0</text>
<text x="1069.4" y="1596.4" font-size="29.60" text-anchor="middle" fill="#000">0</text>
<text x="1135.6" y="1596.4" font-size="29.60" text-anchor="middle" fill="#000">0</text>
<text x="1201.8" y="1596.4" font-size="29.60" text-anchor="middle" fill="#000">0</text>
<text x="1268.0" y="1596.4" font-size="29.60" text-anchor="middle" fill="#000">0</text>
<text x="1334.2" y="1596.4" font-size="29.60" text-anchor="middle" fill="#000">0</text>
<text x="1400.4" y="1596.4" font-size="29.60" text-anchor="middle" fill="#000">0</text>
<text x="1466.6" y="1596.4" font-size="29.60" text-anchor="middle" fill="#000">0</text>
<text x="1532.8" y="1596.4" font-size="29.60" text-anchor="middle" fill="#000">0</text>
<text x="-0.79" y="1692.10" font-size="33.00" font-weight="bold" fill="#000" textLength="21.88" lengthAdjust="spacingAndGlyphs">E</text>
<rect x="99.80" y="1668.40" width="921.50" height="196.30" fill="#F7F5F3"/>
<rect x="99.80" y="1864.70" width="921.50" height="73.80" fill="#FCF7F5"/>
<rect x="99.80" y="1938.50" width="921.50" height="68.60" fill="#FAFCF9"/>
<rect x="99.80" y="2007.10" width="921.50" height="12.40" fill="#F6F9FC"/>
<rect x="99.80" y="2019.50" width="921.50" height="15.90" fill="#FFFFFF"/>
<rect x="101.00" y="1668.40" width="5.90" height="196.30" fill="#744C3C"/>
<rect x="101.00" y="1864.70" width="5.90" height="73.80" fill="#B24F27"/>
<rect x="101.00" y="1938.50" width="5.90" height="68.60" fill="#9BC76F"/>
<rect x="101.00" y="2007.10" width="5.90" height="12.40" fill="#559ACF"/>
<line x1="93.40" y1="1717.10" x2="99.80" y2="1717.10" stroke="#333333" stroke-width="2.00"/>
<text x="87.6" y="1723.9" font-size="19.60" text-anchor="end" fill="#4D4D4D">10%</text>
<line x1="93.40" y1="1790.90" x2="99.80" y2="1790.90" stroke="#333333" stroke-width="2.00"/>
<text x="87.6" y="1797.7" font-size="19.60" text-anchor="end" fill="#4D4D4D">1%</text>
<line x1="93.40" y1="1864.70" x2="99.80" y2="1864.70" stroke="#333333" stroke-width="2.00"/>
<text x="87.6" y="1871.5" font-size="19.60" text-anchor="end" fill="#4D4D4D">0.1%</text>
<line x1="93.40" y1="1938.50" x2="99.80" y2="1938.50" stroke="#333333" stroke-width="2.00"/>
<text x="87.6" y="1945.3" font-size="19.60" text-anchor="end" fill="#4D4D4D">0.01%</text>
<line x1="93.40" y1="2012.30" x2="99.80" y2="2012.30" stroke="#333333" stroke-width="2.00"/>
<text x="87.6" y="2019.1" font-size="19.60" text-anchor="end" fill="#4D4D4D">0%</text>
<rect x="99.80" y="2049.10" width="921.50" height="196.30" fill="#F7F5F3"/>
<rect x="99.80" y="2245.40" width="921.50" height="73.80" fill="#FCF7F5"/>
<rect x="99.80" y="2319.20" width="921.50" height="68.60" fill="#FAFCF9"/>
<rect x="99.80" y="2387.80" width="921.50" height="12.40" fill="#F6F9FC"/>
<rect x="99.80" y="2400.20" width="921.50" height="15.40" fill="#FFFFFF"/>
<rect x="101.00" y="2049.10" width="5.90" height="196.30" fill="#744C3C"/>
<rect x="101.00" y="2245.40" width="5.90" height="73.80" fill="#B24F27"/>
<rect x="101.00" y="2319.20" width="5.90" height="68.60" fill="#9BC76F"/>
<rect x="101.00" y="2387.80" width="5.90" height="12.40" fill="#559ACF"/>
<line x1="93.40" y1="2097.80" x2="99.80" y2="2097.80" stroke="#333333" stroke-width="2.00"/>
<text x="87.6" y="2104.6" font-size="19.60" text-anchor="end" fill="#4D4D4D">10%</text>
<line x1="93.40" y1="2171.60" x2="99.80" y2="2171.60" stroke="#333333" stroke-width="2.00"/>
<text x="87.6" y="2178.4" font-size="19.60" text-anchor="end" fill="#4D4D4D">1%</text>
<line x1="93.40" y1="2245.40" x2="99.80" y2="2245.40" stroke="#333333" stroke-width="2.00"/>
<text x="87.6" y="2252.2" font-size="19.60" text-anchor="end" fill="#4D4D4D">0.1%</text>
<line x1="93.40" y1="2319.20" x2="99.80" y2="2319.20" stroke="#333333" stroke-width="2.00"/>
<text x="87.6" y="2326.0" font-size="19.60" text-anchor="end" fill="#4D4D4D">0.01%</text>
<line x1="93.40" y1="2393.00" x2="99.80" y2="2393.00" stroke="#333333" stroke-width="2.00"/>
<text x="87.6" y="2399.8" font-size="19.60" text-anchor="end" fill="#4D4D4D">0%</text>
<line x1="141.50" y1="1769.20" x2="141.50" y2="1819.70" stroke="#646464" stroke-width="2.00"/>
<line x1="141.50" y1="1903.90" x2="141.50" y2="1924.60" stroke="#646464" stroke-width="2.00"/>
<rect x="115.00" y="1819.70" width="53.00" height="84.20" fill="none" stroke="#646464" stroke-width="2.00"/>
<line x1="115.00" y1="1842.00" x2="168.00" y2="1842.00" stroke="#646464" stroke-width="3.80"/>
<line x1="211.32" y1="1814.40" x2="211.32" y2="1875.80" stroke="#646464" stroke-width="2.00"/>
<line x1="211.32" y1="1974.80" x2="211.32" y2="2012.30" stroke="#646464" stroke-width="2.00"/>
<rect x="184.82" y="1875.80" width="53.00" height="99.00" fill="none" stroke="#646464" stroke-width="2.00"/>
<line x1="184.82" y1="1923.60" x2="237.82" y2="1923.60" stroke="#646464" stroke-width="3.80"/>
<line x1="281.14" y1="1852.80" x2="281.14" y2="1898.00" stroke="#646464" stroke-width="2.00"/>
<line x1="281.14" y1="1982.60" x2="281.14" y2="2012.30" stroke="#646464" stroke-width="2.00"/>
<rect x="254.64" y="1898.00" width="53.00" height="84.60" fill="none" stroke="#646464" stroke-width="2.00"/>
<line x1="254.64" y1="1937.40" x2="307.64" y2="1937.40" stroke="#646464" stroke-width="3.80"/>
<line x1="350.96" y1="1683.60" x2="350.96" y2="1782.50" stroke="#646464" stroke-width="2.00"/>
<line x1="350.96" y1="1899.30" x2="350.96" y2="1943.70" stroke="#646464" stroke-width="2.00"/>
<rect x="324.46" y="1782.50" width="53.00" height="116.80" fill="none" stroke="#646464" stroke-width="2.00"/>
<line x1="324.46" y1="1849.50" x2="377.46" y2="1849.50" stroke="#646464" stroke-width="3.80"/>
<line x1="420.78" y1="1750.10" x2="420.78" y2="1763.30" stroke="#646464" stroke-width="2.00"/>
<line x1="420.78" y1="1787.60" x2="420.78" y2="1799.60" stroke="#646464" stroke-width="2.00"/>
<rect x="394.28" y="1763.30" width="53.00" height="24.30" fill="none" stroke="#646464" stroke-width="2.00"/>
<line x1="394.28" y1="1775.70" x2="447.28" y2="1775.70" stroke="#646464" stroke-width="3.80"/>
<line x1="490.60" y1="1690.50" x2="490.60" y2="1741.30" stroke="#646464" stroke-width="2.00"/>
<line x1="490.60" y1="1843.90" x2="490.60" y2="1895.90" stroke="#646464" stroke-width="2.00"/>
<rect x="464.10" y="1741.30" width="53.00" height="102.60" fill="none" stroke="#646464" stroke-width="2.00"/>
<line x1="464.10" y1="1792.40" x2="517.10" y2="1792.40" stroke="#646464" stroke-width="3.80"/>
<line x1="533.92" y1="1883.50" x2="586.92" y2="1883.50" stroke="#646464" stroke-width="3.80"/>
<line x1="603.74" y1="1956.00" x2="656.74" y2="1956.00" stroke="#646464" stroke-width="3.80"/>
<line x1="673.56" y1="1902.40" x2="726.56" y2="1902.40" stroke="#646464" stroke-width="3.80"/>
<line x1="743.38" y1="1824.30" x2="796.38" y2="1824.30" stroke="#646464" stroke-width="3.80"/>
<line x1="141.50" y1="2166.90" x2="141.50" y2="2241.00" stroke="#646464" stroke-width="2.00"/>
<line x1="141.50" y1="2326.80" x2="141.50" y2="2393.00" stroke="#646464" stroke-width="2.00"/>
<rect x="115.00" y="2241.00" width="53.00" height="85.80" fill="none" stroke="#646464" stroke-width="2.00"/>
<line x1="115.00" y1="2257.80" x2="168.00" y2="2257.80" stroke="#646464" stroke-width="3.80"/>
<line x1="211.32" y1="2353.80" x2="211.32" y2="2372.00" stroke="#646464" stroke-width="2.00"/>
<rect x="184.82" y="2372.00" width="53.00" height="21.00" fill="none" stroke="#646464" stroke-width="2.00"/>
<line x1="184.82" y1="2393.00" x2="237.82" y2="2393.00" stroke="#646464" stroke-width="3.80"/>
<line x1="281.14" y1="2305.60" x2="281.14" y2="2333.10" stroke="#646464" stroke-width="2.00"/>
<rect x="254.64" y="2333.10" width="53.00" height="59.90" fill="none" stroke="#646464" stroke-width="2.00"/>
<line x1="254.64" y1="2346.90" x2="307.64" y2="2346.90" stroke="#646464" stroke-width="3.80"/>
<line x1="324.46" y1="2393.00" x2="377.46" y2="2393.00" stroke="#646464" stroke-width="3.80"/>
<line x1="420.78" y1="2315.50" x2="420.78" y2="2337.50" stroke="#646464" stroke-width="2.00"/>
<rect x="394.28" y="2337.50" width="53.00" height="55.50" fill="none" stroke="#646464" stroke-width="2.00"/>
<line x1="394.28" y1="2393.00" x2="447.28" y2="2393.00" stroke="#646464" stroke-width="3.80"/>
<line x1="490.60" y1="2309.00" x2="490.60" y2="2332.60" stroke="#646464" stroke-width="2.00"/>
<rect x="464.10" y="2332.60" width="53.00" height="60.40" fill="none" stroke="#646464" stroke-width="2.00"/>
<line x1="464.10" y1="2348.30" x2="517.10" y2="2348.30" stroke="#646464" stroke-width="3.80"/>
<line x1="533.92" y1="2393.00" x2="586.92" y2="2393.00" stroke="#646464" stroke-width="3.80"/>
<rect x="603.74" y="2379.20" width="53.00" height="13.80" fill="none" stroke="#646464" stroke-width="2.00"/>
<line x1="603.74" y1="2393.00" x2="656.74" y2="2393.00" stroke="#646464" stroke-width="3.80"/>
<line x1="700.06" y1="2305.00" x2="700.06" y2="2336.90" stroke="#646464" stroke-width="2.00"/>
<rect x="673.56" y="2336.90" width="53.00" height="56.10" fill="none" stroke="#646464" stroke-width="2.00"/>
<line x1="673.56" y1="2393.00" x2="726.56" y2="2393.00" stroke="#646464" stroke-width="3.80"/>
<line x1="743.38" y1="2393.00" x2="796.38" y2="2393.00" stroke="#646464" stroke-width="3.80"/>
<line x1="839.70" y1="2304.50" x2="839.70" y2="2317.50" stroke="#646464" stroke-width="2.00"/>
<line x1="839.70" y1="2362.40" x2="839.70" y2="2393.00" stroke="#646464" stroke-width="2.00"/>
<rect x="813.20" y="2317.50" width="53.00" height="44.90" fill="none" stroke="#646464" stroke-width="2.00"/>
<line x1="813.20" y1="2337.30" x2="866.20" y2="2337.30" stroke="#646464" stroke-width="3.80"/>
<line x1="909.52" y1="2297.40" x2="909.52" y2="2311.30" stroke="#646464" stroke-width="2.00"/>
<rect x="883.02" y="2311.30" width="53.00" height="24.70" fill="none" stroke="#646464" stroke-width="2.00"/>
<line x1="883.02" y1="2315.70" x2="936.02" y2="2315.70" stroke="#646464" stroke-width="3.80"/>
<line x1="952.84" y1="2326.30" x2="1005.84" y2="2326.30" stroke="#646464" stroke-width="3.80"/>
<line x1="99.70" y1="1938.50" x2="1021.30" y2="1938.50" stroke="#000" stroke-width="2.30" stroke-dasharray="19.5 19.0"/>
<line x1="99.70" y1="2319.20" x2="1021.30" y2="2319.20" stroke="#000" stroke-width="2.30" stroke-dasharray="19.5 19.0"/>
<path d="M141.5,1768.7 L211.3,1869.6 L351.0,1683.6 L420.8,1750.4 L490.6,1690.4" fill="none" stroke="#CD1076" stroke-opacity="0.80" stroke-width="4.0" stroke-linejoin="round"/>
<path d="M141.5,1816.7 L211.3,1938.8 L281.1,2012.3 L351.0,1943.7 L420.8,1799.6 L490.6,1895.9 L560.4,1883.5 L630.2,1956.0 L700.1,1902.4 L769.9,1824.3" fill="none" stroke="#CD1076" stroke-opacity="0.80" stroke-width="4.0" stroke-linejoin="round"/>
<path d="M141.5,1831.6 L211.3,1883.8 L281.1,1935.6 L351.0,1884.0" fill="none" stroke="#CD1076" stroke-opacity="0.80" stroke-width="4.0" stroke-linejoin="round"/>
<path d="M141.5,1853.4 L211.3,1919.4" fill="none" stroke="#CD1076" stroke-opacity="0.80" stroke-width="4.0" stroke-linejoin="round"/>
<path d="M141.5,1922.8 L211.3,1922.6 L281.1,1935.6" fill="none" stroke="#CD1076" stroke-opacity="0.80" stroke-width="4.0" stroke-linejoin="round"/>
<path d="M141.5,1925.4 L211.3,2012.3" fill="none" stroke="#CD1076" stroke-opacity="0.80" stroke-width="4.0" stroke-linejoin="round"/>
<path d="M211.3,2012.3 L281.1,1973.6" fill="none" stroke="#CD1076" stroke-opacity="0.80" stroke-width="4.0" stroke-linejoin="round"/>
<path d="M211.3,1814.8 L281.1,2012.3" fill="none" stroke="#CD1076" stroke-opacity="0.80" stroke-width="4.0" stroke-linejoin="round"/>
<path d="M211.3,1973.0 L281.1,1853.4" fill="none" stroke="#CD1076" stroke-opacity="0.80" stroke-width="4.0" stroke-linejoin="round"/>
<path d="M211.3,2012.3 L281.1,1853.4" fill="none" stroke="#CD1076" stroke-opacity="0.80" stroke-width="4.0" stroke-linejoin="round"/>
<path d="M211.3,1869.6 L281.1,1907.6" fill="none" stroke="#CD1076" stroke-opacity="0.80" stroke-width="4.0" stroke-linejoin="round"/>
<path d="M281.1,1866.0 L351.0,1815.8" fill="none" stroke="#CD1076" stroke-opacity="0.80" stroke-width="4.0" stroke-linejoin="round"/>
<path d="M141.5,2166.5 L211.3,2393.0" fill="none" stroke="#CDAD00" stroke-opacity="0.80" stroke-width="4.0" stroke-linejoin="round"/>
<path d="M141.5,2200.2 L211.3,2331.8 L281.1,2368.0 L351.0,2393.0" fill="none" stroke="#CDAD00" stroke-opacity="0.80" stroke-width="4.0" stroke-linejoin="round"/>
<path d="M141.5,2231.4 L211.3,2393.0" fill="none" stroke="#CDAD00" stroke-opacity="0.80" stroke-width="4.0" stroke-linejoin="round"/>
<path d="M141.5,2243.2 L211.3,2393.0 L281.1,2333.0 L351.0,2332.0 L420.8,2331.0 L490.6,2331.0 L560.4,2327.0 L630.2,2393.0" fill="none" stroke="#CDAD00" stroke-opacity="0.80" stroke-width="4.0" stroke-linejoin="round"/>
<path d="M141.5,2245.6 L211.3,2393.0 L281.1,2340.0 L351.0,2393.0 L420.8,2337.0 L490.6,2323.0 L560.4,2393.0" fill="none" stroke="#CDAD00" stroke-opacity="0.80" stroke-width="4.0" stroke-linejoin="round"/>
<path d="M141.5,2248.0 L211.3,2351.8 L281.1,2353.0 L351.0,2393.0" fill="none" stroke="#CDAD00" stroke-opacity="0.80" stroke-width="4.0" stroke-linejoin="round"/>
<path d="M141.5,2252.7 L211.3,2393.0 L281.1,2305.6 L351.0,2393.0 L420.8,2313.3 L490.6,2307.4 L560.4,2393.0" fill="none" stroke="#CDAD00" stroke-opacity="0.80" stroke-width="4.0" stroke-linejoin="round"/>
<path d="M141.5,2255.0 L211.3,2393.0 L281.1,2346.7 L351.0,2393.0" fill="none" stroke="#CDAD00" stroke-opacity="0.80" stroke-width="4.0" stroke-linejoin="round"/>
<path d="M141.5,2257.5 L211.3,2393.0" fill="none" stroke="#CDAD00" stroke-opacity="0.80" stroke-width="4.0" stroke-linejoin="round"/>
<path d="M141.5,2259.8 L211.3,2393.0 L281.1,2335.0 L351.0,2393.0 L420.8,2393.0 L490.6,2346.7 L560.4,2321.5 L630.2,2338.9" fill="none" stroke="#CDAD00" stroke-opacity="0.80" stroke-width="4.0" stroke-linejoin="round"/>
<path d="M141.5,2262.1 L211.3,2393.0" fill="none" stroke="#CDAD00" stroke-opacity="0.80" stroke-width="4.0" stroke-linejoin="round"/>
<path d="M141.5,2292.8 L211.3,2393.0" fill="none" stroke="#CDAD00" stroke-opacity="0.80" stroke-width="4.0" stroke-linejoin="round"/>
<path d="M141.5,2310.5 L211.3,2393.0" fill="none" stroke="#CDAD00" stroke-opacity="0.80" stroke-width="4.0" stroke-linejoin="round"/>
<path d="M141.5,2343.6 L211.3,2393.0 L281.1,2331.8" fill="none" stroke="#CDAD00" stroke-opacity="0.80" stroke-width="4.0" stroke-linejoin="round"/>
<path d="M141.5,2348.3 L211.3,2393.0 L281.1,2393.0" fill="none" stroke="#CDAD00" stroke-opacity="0.80" stroke-width="4.0" stroke-linejoin="round"/>
<path d="M141.5,2393.0 L211.3,2393.0 L281.1,2393.0 L351.0,2393.0 L420.8,2393.0 L490.6,2393.0 L560.4,2393.0 L630.2,2393.0 L700.1,2393.0 L769.9,2393.0 L839.7,2393.0 L909.5,2393.0" fill="none" stroke="#CDAD00" stroke-opacity="0.80" stroke-width="4.0" stroke-linejoin="round"/>
<path d="M211.3,2299.9 L281.1,2343.6 L351.0,2393.0" fill="none" stroke="#CDAD00" stroke-opacity="0.80" stroke-width="4.0" stroke-linejoin="round"/>
<path d="M211.3,2302.0 L281.1,2356.0 L351.0,2393.0" fill="none" stroke="#CDAD00" stroke-opacity="0.80" stroke-width="4.0" stroke-linejoin="round"/>
<path d="M211.3,2393.0 L281.1,2331.8 L351.0,2393.0 L420.8,2348.7 L490.6,2346.7 L560.4,2334.0 L630.2,2327.0" fill="none" stroke="#CDAD00" stroke-opacity="0.80" stroke-width="4.0" stroke-linejoin="round"/>
<path d="M351.0,2393.0 L420.8,2393.0 L490.6,2331.0 L560.4,2393.0 L630.2,2323.1 L700.1,2393.0 L769.9,2334.0 L839.7,2352.3" fill="none" stroke="#CDAD00" stroke-opacity="0.80" stroke-width="4.0" stroke-linejoin="round"/>
<path d="M420.8,2337.0 L490.6,2393.0 L560.4,2322.0 L630.2,2393.0 L700.1,2305.0 L769.9,2393.0 L839.7,2304.5" fill="none" stroke="#CDAD00" stroke-opacity="0.80" stroke-width="4.0" stroke-linejoin="round"/>
<path d="M490.6,2393.0 L560.4,2327.0 L630.2,2393.0 L700.1,2326.1 L769.9,2393.0" fill="none" stroke="#CDAD00" stroke-opacity="0.80" stroke-width="4.0" stroke-linejoin="round"/>
<path d="M560.4,2393.0 L630.2,2393.0 L700.1,2336.9 L769.9,2393.0 L839.7,2323.1 L909.5,2297.4" fill="none" stroke="#CDAD00" stroke-opacity="0.80" stroke-width="4.0" stroke-linejoin="round"/>
<path d="M769.9,2393.0 L839.7,2352.3 L909.5,2315.7 L979.3,2326.3" fill="none" stroke="#CDAD00" stroke-opacity="0.80" stroke-width="4.0" stroke-linejoin="round"/>
<path d="M420.8,2331.0 L490.6,2390.0" fill="none" stroke="#CDAD00" stroke-opacity="0.80" stroke-width="4.0" stroke-linejoin="round"/>
<path d="M281.1,2304.7 L420.8,2393.0" fill="none" stroke="#CDAD00" stroke-opacity="0.80" stroke-width="4.0" stroke-linejoin="round"/>
<path d="M281.1,2343.0 L420.8,2352.0 L490.6,2346.7" fill="none" stroke="#CDAD00" stroke-opacity="0.80" stroke-width="4.0" stroke-linejoin="round"/>
<path d="M281.1,2393.0 L351.0,2378.0 L420.8,2362.0 L490.6,2338.0" fill="none" stroke="#CDAD00" stroke-opacity="0.80" stroke-width="4.0" stroke-linejoin="round"/>
<path d="M211.3,2368.0 L281.1,2362.0 L351.0,2393.0" fill="none" stroke="#CDAD00" stroke-opacity="0.80" stroke-width="4.0" stroke-linejoin="round"/>
<path d="M211.3,2393.0 L281.1,2326.0 L351.0,2393.0" fill="none" stroke="#CDAD00" stroke-opacity="0.80" stroke-width="4.0" stroke-linejoin="round"/>
<path d="M351.0,2393.0 L420.8,2336.0 L490.6,2355.0 L560.4,2393.0" fill="none" stroke="#CDAD00" stroke-opacity="0.80" stroke-width="4.0" stroke-linejoin="round"/>
<path d="M141.5,2236.0 L211.3,2352.0 L281.1,2320.0 L351.0,2393.0" fill="none" stroke="#CDAD00" stroke-opacity="0.80" stroke-width="4.0" stroke-linejoin="round"/>
<rect x="99.80" y="1668.40" width="921.50" height="367.00" fill="none" stroke="#333333" stroke-width="1.80"/>
<rect x="99.80" y="2049.10" width="921.50" height="366.50" fill="none" stroke="#333333" stroke-width="1.80"/>
<rect x="1022.30" y="1667.20" width="51.30" height="368.80" fill="#DC589F" stroke="#333333" stroke-width="2.20"/>
<text x="-2.07" y="0.00" font-size="32.60" font-weight="bold" fill="#1A1A1A" textLength="285.63" lengthAdjust="spacingAndGlyphs" transform="translate(1037.1 1704.20) rotate(90)">Disease recurrence</text>
<rect x="1022.30" y="2047.90" width="51.30" height="368.30" fill="#DCC64D" stroke="#333333" stroke-width="2.20"/>
<text x="-2.07" y="0.00" font-size="32.60" font-weight="bold" fill="#1A1A1A" textLength="331.22" lengthAdjust="spacingAndGlyphs" transform="translate(1037.1 2071.20) rotate(90)">No disease recurrence</text>
<rect x="726.60" y="1683.20" width="277.30" height="114.60" fill="#FFFFFF"/>
<rect x="742.60" y="1722.00" width="31.20" height="10.50" fill="#D74091"/>
<rect x="742.60" y="1761.00" width="31.20" height="10.50" fill="#D7BD33"/>
<text x="789.17" y="1734.80" font-size="19.80" fill="#000" textLength="167.81" lengthAdjust="spacingAndGlyphs">disease recurrence</text>
<text x="788.69" y="1773.80" font-size="19.80" fill="#000" textLength="194.88" lengthAdjust="spacingAndGlyphs">no disease recurrence</text>
<line x1="141.50" y1="2415.60" x2="141.50" y2="2422.20" stroke="#333333" stroke-width="2.00"/>
<text x="141.5" y="2443.2" font-size="19.60" text-anchor="middle" fill="#4D4D4D">P0</text>
<line x1="211.32" y1="2415.60" x2="211.32" y2="2422.20" stroke="#333333" stroke-width="2.00"/>
<text x="211.3" y="2443.2" font-size="19.60" text-anchor="middle" fill="#4D4D4D">P1</text>
<line x1="281.14" y1="2415.60" x2="281.14" y2="2422.20" stroke="#333333" stroke-width="2.00"/>
<text x="281.1" y="2443.2" font-size="19.60" text-anchor="middle" fill="#4D4D4D">P2</text>
<line x1="350.96" y1="2415.60" x2="350.96" y2="2422.20" stroke="#333333" stroke-width="2.00"/>
<text x="351.0" y="2443.2" font-size="19.60" text-anchor="middle" fill="#4D4D4D">PF1</text>
<line x1="420.78" y1="2415.60" x2="420.78" y2="2422.20" stroke="#333333" stroke-width="2.00"/>
<text x="420.8" y="2443.2" font-size="19.60" text-anchor="middle" fill="#4D4D4D">PF2</text>
<line x1="490.60" y1="2415.60" x2="490.60" y2="2422.20" stroke="#333333" stroke-width="2.00"/>
<text x="490.6" y="2443.2" font-size="19.60" text-anchor="middle" fill="#4D4D4D">PF3</text>
<line x1="560.42" y1="2415.60" x2="560.42" y2="2422.20" stroke="#333333" stroke-width="2.00"/>
<text x="560.4" y="2443.2" font-size="19.60" text-anchor="middle" fill="#4D4D4D">PF4</text>
<line x1="630.24" y1="2415.60" x2="630.24" y2="2422.20" stroke="#333333" stroke-width="2.00"/>
<text x="630.2" y="2443.2" font-size="19.60" text-anchor="middle" fill="#4D4D4D">PF5</text>
<line x1="700.06" y1="2415.60" x2="700.06" y2="2422.20" stroke="#333333" stroke-width="2.00"/>
<text x="700.1" y="2443.2" font-size="19.60" text-anchor="middle" fill="#4D4D4D">PF6</text>
<line x1="769.88" y1="2415.60" x2="769.88" y2="2422.20" stroke="#333333" stroke-width="2.00"/>
<text x="769.9" y="2443.2" font-size="19.60" text-anchor="middle" fill="#4D4D4D">PF7</text>
<line x1="839.70" y1="2415.60" x2="839.70" y2="2422.20" stroke="#333333" stroke-width="2.00"/>
<text x="839.7" y="2443.2" font-size="19.60" text-anchor="middle" fill="#4D4D4D">PF8</text>
<line x1="909.52" y1="2415.60" x2="909.52" y2="2422.20" stroke="#333333" stroke-width="2.00"/>
<text x="909.5" y="2443.2" font-size="19.60" text-anchor="middle" fill="#4D4D4D">PF9</text>
<line x1="979.34" y1="2415.60" x2="979.34" y2="2422.20" stroke="#333333" stroke-width="2.00"/>
<text x="979.3" y="2443.2" font-size="19.60" text-anchor="middle" fill="#4D4D4D">PF10</text>
<text x="470.49" y="2469.30" font-size="24.00" fill="#000" textLength="179.68" lengthAdjust="spacingAndGlyphs">Clinical timepoint</text>
<text x="-1.05" y="0.00" font-size="24.00" fill="#000" textLength="246.87" lengthAdjust="spacingAndGlyphs" transform="translate(18.4 2164.1) rotate(-90)">ctDNA Tumor Fraction</text>
<text x="1095.80" y="1691.90" font-size="33.00" font-weight="bold" fill="#000" textLength="20.11" lengthAdjust="spacingAndGlyphs">F</text>
<line x1="1195.80" y1="1668.60" x2="1195.80" y2="2335.10" stroke="#000" stroke-width="2.60"/>
<line x1="1194.50" y1="2333.80" x2="1568.00" y2="2333.80" stroke="#000" stroke-width="2.60"/>
<line x1="1189.20" y1="1775.80" x2="1195.80" y2="1775.80" stroke="#333333" stroke-width="2.40"/>
<text x="1183.4" y="1782.6" font-size="19.60" text-anchor="end" fill="#4D4D4D">10%</text>
<line x1="1189.20" y1="1907.60" x2="1195.80" y2="1907.60" stroke="#333333" stroke-width="2.40"/>
<text x="1183.4" y="1914.4" font-size="19.60" text-anchor="end" fill="#4D4D4D">1%</text>
<line x1="1189.20" y1="2039.60" x2="1195.80" y2="2039.60" stroke="#333333" stroke-width="2.40"/>
<text x="1183.4" y="2046.4" font-size="19.60" text-anchor="end" fill="#4D4D4D">0.1%</text>
<line x1="1189.20" y1="2171.70" x2="1195.80" y2="2171.70" stroke="#333333" stroke-width="2.40"/>
<text x="1183.4" y="2178.5" font-size="19.60" text-anchor="end" fill="#4D4D4D">0.01%</text>
<line x1="1189.20" y1="2303.50" x2="1195.80" y2="2303.50" stroke="#333333" stroke-width="2.40"/>
<text x="1183.4" y="2310.3" font-size="19.60" text-anchor="end" fill="#4D4D4D">0%</text>
<line x1="1297.30" y1="2333.80" x2="1297.30" y2="2340.20" stroke="#333333" stroke-width="2.40"/>
<line x1="1466.00" y1="2333.80" x2="1466.00" y2="2340.20" stroke="#333333" stroke-width="2.40"/>
<text x="1226.17" y="2360.20" font-size="20.00" fill="#4D4D4D" textLength="141.11" lengthAdjust="spacingAndGlyphs">Post-recurrence</text>
<text x="1253.11" y="2381.80" font-size="20.00" fill="#4D4D4D" textLength="88.39" lengthAdjust="spacingAndGlyphs">timepoints</text>
<text x="1440.06" y="2360.20" font-size="20.00" fill="#4D4D4D" textLength="49.88" lengthAdjust="spacingAndGlyphs">Other</text>
<text x="-0.05" y="0.00" font-size="24.00" fill="#000" textLength="413.60" lengthAdjust="spacingAndGlyphs" transform="translate(1115.4 2202.8) rotate(-90)">All follow-up timepoints Tumor Fraction</text>
<path d="M1297.0,1715.6 L1297.0,1698.0 L1466.2,1698.0 L1466.2,1715.6" fill="none" stroke="#000" stroke-width="1.8"/>
<text x="1336.41" y="1691.00" font-size="24.00" fill="#000" textLength="87.76" lengthAdjust="spacingAndGlyphs">&lt;0.0001</text>
<line x1="1297.30" y1="1726.80" x2="1297.30" y2="1902.20" stroke="#333333" stroke-width="2.20"/>
<line x1="1297.30" y1="2097.60" x2="1297.30" y2="2203.20" stroke="#333333" stroke-width="2.20"/>
<rect x="1233.60" y="1902.20" width="127.40" height="195.40" fill="#00CD00" stroke="#333333" stroke-width="2.40"/>
<line x1="1233.60" y1="2020.20" x2="1361.00" y2="2020.20" stroke="#333333" stroke-width="4.40"/>
<line x1="1466.00" y1="2074.40" x2="1466.00" y2="2204.40" stroke="#333333" stroke-width="2.20"/>
<rect x="1402.50" y="2204.40" width="126.90" height="99.00" fill="#EE9A00" stroke="#333333" stroke-width="2.40"/>
<line x1="1402.50" y1="2303.40" x2="1529.40" y2="2303.40" stroke="#333333" stroke-width="4.40"/>
<g fill="#000"><circle cx="1238.4" cy="1726.8" r="5.4"/><circle cx="1289.6" cy="1835.6" r="5.4"/><circle cx="1350.4" cy="1924.2" r="5.4"/><circle cx="1327.4" cy="1967.4" r="5.4"/><circle cx="1346.2" cy="2073.0" r="5.4"/><circle cx="1333.8" cy="2094.7" r="5.4"/><circle cx="1319.7" cy="2107.5" r="5.4"/><circle cx="1232.3" cy="2203.2" r="5.4"/><circle cx="1538.5" cy="2073.6" r="5.4"/><circle cx="1520.6" cy="2133.4" r="5.4"/><circle cx="1510.0" cy="2145.4" r="5.4"/><circle cx="1442.7" cy="2147.6" r="5.4"/><circle cx="1398.2" cy="2153.1" r="5.4"/><circle cx="1396.4" cy="2165.4" r="5.4"/><circle cx="1522.3" cy="2163.9" r="5.4"/><circle cx="1483.3" cy="2168.4" r="5.4"/><circle cx="1397.3" cy="2179.5" r="5.4"/><circle cx="1435.6" cy="2176.2" r="5.4"/><circle cx="1431.0" cy="2177.5" r="5.4"/><circle cx="1427.8" cy="2183.6" r="5.4"/><circle cx="1408.7" cy="2184.6" r="5.4"/><circle cx="1455.0" cy="2177.5" r="5.4"/><circle cx="1460.2" cy="2179.7" r="5.4"/><circle cx="1536.8" cy="2185.9" r="5.4"/><circle cx="1547.6" cy="2184.6" r="5.4"/><circle cx="1396.0" cy="2193.7" r="5.4"/><circle cx="1401.8" cy="2198.7" r="5.4"/><circle cx="1404.0" cy="2193.7" r="5.4"/><circle cx="1410.2" cy="2193.7" r="5.4"/><circle cx="1453.1" cy="2198.7" r="5.4"/><circle cx="1411.9" cy="2204.8" r="5.4"/><circle cx="1464.1" cy="2201.5" r="5.4"/><circle cx="1463.7" cy="2208.7" r="5.4"/><circle cx="1473.9" cy="2204.8" r="5.4"/><circle cx="1484.3" cy="2204.1" r="5.4"/><circle cx="1507.0" cy="2202.8" r="5.4"/><circle cx="1544.4" cy="2204.8" r="5.4"/><circle cx="1499.4" cy="2214.8" r="5.4"/><circle cx="1521.3" cy="2226.8" r="5.4"/><circle cx="1549.4" cy="2224.2" r="5.4"/><circle cx="1445.0" cy="2234.0" r="5.4"/><circle cx="1448.6" cy="2231.4" r="5.4"/><circle cx="1383.6" cy="2303.6" r="5.4"/><circle cx="1386.2" cy="2303.6" r="5.4"/><circle cx="1388.8" cy="2303.6" r="5.4"/><circle cx="1391.4" cy="2303.6" r="5.4"/><circle cx="1394.0" cy="2303.6" r="5.4"/><circle cx="1396.6" cy="2303.6" r="5.4"/><circle cx="1399.2" cy="2303.6" r="5.4"/><circle cx="1412.0" cy="2303.6" r="5.4"/><circle cx="1414.6" cy="2303.6" r="5.4"/><circle cx="1417.2" cy="2303.6" r="5.4"/><circle cx="1419.8" cy="2303.6" r="5.4"/><circle cx="1422.4" cy="2303.6" r="5.4"/><circle cx="1425.0" cy="2303.6" r="5.4"/><circle cx="1427.6" cy="2303.6" r="5.4"/><circle cx="1430.2" cy="2303.6" r="5.4"/><circle cx="1432.8" cy="2303.6" r="5.4"/><circle cx="1444.0" cy="2303.6" r="5.4"/><circle cx="1446.6" cy="2303.6" r="5.4"/><circle cx="1449.2" cy="2303.6" r="5.4"/><circle cx="1451.8" cy="2303.6" r="5.4"/><circle cx="1454.4" cy="2303.6" r="5.4"/><circle cx="1457.0" cy="2303.6" r="5.4"/><circle cx="1459.6" cy="2303.6" r="5.4"/><circle cx="1462.2" cy="2303.6" r="5.4"/><circle cx="1474.0" cy="2303.6" r="5.4"/><circle cx="1476.6" cy="2303.6" r="5.4"/><circle cx="1479.2" cy="2303.6" r="5.4"/><circle cx="1481.8" cy="2303.6" r="5.4"/><circle cx="1484.4" cy="2303.6" r="5.4"/><circle cx="1487.0" cy="2303.6" r="5.4"/><circle cx="1489.6" cy="2303.6" r="5.4"/><circle cx="1492.2" cy="2303.6" r="5.4"/><circle cx="1494.8" cy="2303.6" r="5.4"/><circle cx="1497.4" cy="2303.6" r="5.4"/><circle cx="1500.0" cy="2303.6" r="5.4"/><circle cx="1511.5" cy="2303.6" r="5.4"/><circle cx="1514.1" cy="2303.6" r="5.4"/><circle cx="1516.7" cy="2303.6" r="5.4"/><circle cx="1519.3" cy="2303.6" r="5.4"/><circle cx="1521.9" cy="2303.6" r="5.4"/><circle cx="1524.5" cy="2303.6" r="5.4"/><circle cx="1527.1" cy="2303.6" r="5.4"/><circle cx="1529.7" cy="2303.6" r="5.4"/><circle cx="1532.3" cy="2303.6" r="5.4"/><circle cx="1534.9" cy="2303.6" r="5.4"/><circle cx="1537.5" cy="2303.6" r="5.4"/><circle cx="1538.4" cy="2303.6" r="5.4"/><circle cx="1549.8" cy="2303.4" r="5.4"/></g>
<line x1="1249.90" y1="2428.00" x2="1249.90" y2="2460.00" stroke="#333333" stroke-width="2.20"/>
<rect x="1234.90" y="2433.60" width="30.00" height="20.80" fill="#00CD00" stroke="#333333" stroke-width="2.40"/>
<line x1="1234.90" y1="2444.00" x2="1264.90" y2="2444.00" stroke="#333333" stroke-width="2.20"/>
<circle cx="1249.9" cy="2444.0" r="5.4" fill="#000"/>
<line x1="1462.40" y1="2428.00" x2="1462.40" y2="2460.00" stroke="#333333" stroke-width="2.20"/>
<rect x="1447.40" y="2433.60" width="30.00" height="20.80" fill="#EE9A00" stroke="#333333" stroke-width="2.40"/>
<line x1="1447.40" y1="2444.00" x2="1477.40" y2="2444.00" stroke="#333333" stroke-width="2.20"/>
<circle cx="1462.4" cy="2444.0" r="5.4" fill="#000"/>
<text x="1280.99" y="2441.60" font-size="20.00" fill="#000" textLength="139.68" lengthAdjust="spacingAndGlyphs">Post-recurrence</text>
<text x="1282.31" y="2460.80" font-size="20.00" fill="#000" textLength="87.99" lengthAdjust="spacingAndGlyphs">timepoints</text>
<text x="1493.46" y="2451.20" font-size="20.00" fill="#000" textLength="49.88" lengthAdjust="spacingAndGlyphs">Other</text>
</svg>
</body></html>
